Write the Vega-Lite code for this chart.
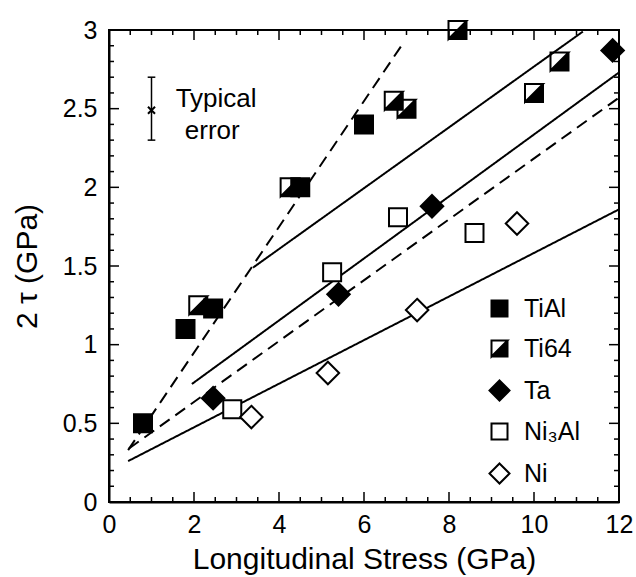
{
  "$schema": "https://vega.github.io/schema/vega-lite/v6.json",
  "width": 510,
  "height": 472,
  "autosize": {"type": "none"},
  "padding": {"left": 109, "top": 30, "right": 17, "bottom": 75},
  "background": "white",
  "config": {
    "font": "Liberation Sans",
    "view": {"stroke": "black", "strokeWidth": 2},
    "axis": {
      "grid": false,
      "domainColor": "black",
      "domainWidth": 2,
      "labelColor": "black",
      "titleColor": "black",
      "labelFont": "Liberation Sans",
      "titleFont": "Liberation Sans",
      "labelFontSize": 25,
      "titleFontSize": 30,
      "titleFontWeight": "normal"
    }
  },
  "datasets": {
    "points": [
      {"material": "TiAl", "stress": 0.8, "tau2": 0.5},
      {"material": "TiAl", "stress": 1.8, "tau2": 1.1},
      {"material": "TiAl", "stress": 2.45, "tau2": 1.23},
      {"material": "TiAl", "stress": 4.5, "tau2": 2.0},
      {"material": "TiAl", "stress": 6.0, "tau2": 2.4},
      {"material": "Ti64", "stress": 2.1, "tau2": 1.25},
      {"material": "Ti64", "stress": 4.25, "tau2": 2.0},
      {"material": "Ti64", "stress": 6.7, "tau2": 2.55},
      {"material": "Ti64", "stress": 7.0, "tau2": 2.5},
      {"material": "Ti64", "stress": 8.2, "tau2": 3.0},
      {"material": "Ti64", "stress": 10.0, "tau2": 2.6},
      {"material": "Ti64", "stress": 10.6, "tau2": 2.8},
      {"material": "Ta", "stress": 2.45, "tau2": 0.66},
      {"material": "Ta", "stress": 5.4, "tau2": 1.32},
      {"material": "Ta", "stress": 7.6, "tau2": 1.88},
      {"material": "Ta", "stress": 11.85, "tau2": 2.87},
      {"material": "Ni₃Al", "stress": 2.9, "tau2": 0.59},
      {"material": "Ni₃Al", "stress": 5.25, "tau2": 1.46},
      {"material": "Ni₃Al", "stress": 6.8, "tau2": 1.81},
      {"material": "Ni₃Al", "stress": 8.6, "tau2": 1.71},
      {"material": "Ni", "stress": 3.35, "tau2": 0.54},
      {"material": "Ni", "stress": 5.15, "tau2": 0.82},
      {"material": "Ni", "stress": 7.25, "tau2": 1.22},
      {"material": "Ni", "stress": 9.6, "tau2": 1.77}
    ],
    "fits": [
      {"fit": "A", "style": "dashed", "stress": 0.45, "tau2": 0.33},
      {"fit": "A", "style": "dashed", "stress": 6.93, "tau2": 2.92},
      {"fit": "B", "style": "solid", "stress": 3.39, "tau2": 1.49},
      {"fit": "B", "style": "solid", "stress": 11.15, "tau2": 2.99},
      {"fit": "C", "style": "solid", "stress": 1.95, "tau2": 0.75},
      {"fit": "C", "style": "solid", "stress": 12.0, "tau2": 2.73},
      {"fit": "D", "style": "dashed", "stress": 0.47, "tau2": 0.34},
      {"fit": "D", "style": "dashed", "stress": 12.0, "tau2": 2.57},
      {"fit": "E", "style": "solid", "stress": 0.45, "tau2": 0.26},
      {"fit": "E", "style": "solid", "stress": 12.0, "tau2": 1.86}
    ],
    "errbar": [
      {"x": 1.0, "x2": 1.0, "y": 2.3, "y2": 2.7},
      {"x": 0.91, "x2": 1.09, "y": 2.7, "y2": 2.7},
      {"x": 0.91, "x2": 1.09, "y": 2.3, "y2": 2.3}
    ],
    "errcenter": [{"x": 1.0, "y": 2.49}],
    "note": [
      {"x": 2.52, "y": 2.51, "text": "Typical"},
      {"x": 2.43, "y": 2.31, "text": "error"}
    ],
    "xticks": [
      {"value": 0, "kind": "major"}, {"value": 0.5, "kind": "minor"}, {"value": 1, "kind": "minor"}, {"value": 1.5, "kind": "minor"},
      {"value": 2, "kind": "major"}, {"value": 2.5, "kind": "minor"}, {"value": 3, "kind": "minor"}, {"value": 3.5, "kind": "minor"},
      {"value": 4, "kind": "major"}, {"value": 4.5, "kind": "minor"}, {"value": 5, "kind": "minor"}, {"value": 5.5, "kind": "minor"},
      {"value": 6, "kind": "major"}, {"value": 6.5, "kind": "minor"}, {"value": 7, "kind": "minor"}, {"value": 7.5, "kind": "minor"},
      {"value": 8, "kind": "major"}, {"value": 8.5, "kind": "minor"}, {"value": 9, "kind": "minor"}, {"value": 9.5, "kind": "minor"},
      {"value": 10, "kind": "major"}, {"value": 10.5, "kind": "minor"}, {"value": 11, "kind": "minor"}, {"value": 11.5, "kind": "minor"},
      {"value": 12, "kind": "major"}
    ],
    "yticks": [
      {"value": 0, "kind": "major"}, {"value": 0.1, "kind": "minor"}, {"value": 0.2, "kind": "minor"}, {"value": 0.3, "kind": "minor"}, {"value": 0.4, "kind": "minor"},
      {"value": 0.5, "kind": "major"}, {"value": 0.6, "kind": "minor"}, {"value": 0.7, "kind": "minor"}, {"value": 0.8, "kind": "minor"}, {"value": 0.9, "kind": "minor"},
      {"value": 1, "kind": "major"}, {"value": 1.1, "kind": "minor"}, {"value": 1.2, "kind": "minor"}, {"value": 1.3, "kind": "minor"}, {"value": 1.4, "kind": "minor"},
      {"value": 1.5, "kind": "major"}, {"value": 1.6, "kind": "minor"}, {"value": 1.7, "kind": "minor"}, {"value": 1.8, "kind": "minor"}, {"value": 1.9, "kind": "minor"},
      {"value": 2, "kind": "major"}, {"value": 2.1, "kind": "minor"}, {"value": 2.2, "kind": "minor"}, {"value": 2.3, "kind": "minor"}, {"value": 2.4, "kind": "minor"},
      {"value": 2.5, "kind": "major"}, {"value": 2.6, "kind": "minor"}, {"value": 2.7, "kind": "minor"}, {"value": 2.8, "kind": "minor"}, {"value": 2.9, "kind": "minor"},
      {"value": 3, "kind": "major"}
    ]
  },
  "layer": [
    {
      "data": {"name": "fits"},
      "mark": {"type": "line", "color": "black", "strokeWidth": 2},
      "encoding": {
        "x": {
          "field": "stress",
          "type": "quantitative",
          "scale": {"domain": [0, 12], "nice": false, "zero": false},
          "axis": {
            "orient": "bottom",
            "values": [0, 2, 4, 6, 8, 10, 12],
            "ticks": false,
            "tickSize": 0,
            "format": "~g",
            "labelPadding": 10,
            "labelFlush": false,
            "labelOverlap": false,
            "title": "Longitudinal Stress (GPa)",
            "titleY": 66,
            "titleBaseline": "alphabetic"
          }
        },
        "y": {
          "field": "tau2",
          "type": "quantitative",
          "scale": {"domain": [0, 3], "nice": false, "zero": false},
          "axis": {
            "orient": "left",
            "values": [0, 0.5, 1, 1.5, 2, 2.5, 3],
            "ticks": false,
            "tickSize": 0,
            "format": "~g",
            "labelPadding": 12,
            "labelFlush": false,
            "labelOverlap": false,
            "title": "2 τ (GPa)",
            "titleX": -82,
            "titleBaseline": "middle"
          }
        },
        "detail": {"field": "fit", "type": "nominal"},
        "strokeDash": {
          "field": "style",
          "type": "nominal",
          "scale": {"domain": ["solid", "dashed"], "range": [[1, 0], [12, 7]]},
          "legend": null
        }
      }
    },
    {
      "data": {"name": "xticks"},
      "mark": {"type": "tick", "orient": "vertical", "clip": true, "thickness": 1.5, "color": "black", "opacity": 1},
      "encoding": {
        "x": {"field": "value", "type": "quantitative", "scale": {"domain": [0, 12], "nice": false, "zero": false}, "axis": null},
        "y": {"datum": 0, "type": "quantitative", "scale": {"domain": [0, 3], "nice": false, "zero": false}, "axis": null},
        "size": {"field": "kind", "type": "nominal", "scale": {"domain": ["major", "minor"], "range": [20, 10]}, "legend": null}
      }
    },
    {
      "data": {"name": "xticks"},
      "mark": {"type": "tick", "orient": "vertical", "clip": true, "thickness": 1.5, "color": "black", "opacity": 1},
      "encoding": {
        "x": {"field": "value", "type": "quantitative", "scale": {"domain": [0, 12], "nice": false, "zero": false}, "axis": null},
        "y": {"datum": 3, "type": "quantitative", "scale": {"domain": [0, 3], "nice": false, "zero": false}, "axis": null},
        "size": {"field": "kind", "type": "nominal", "scale": {"domain": ["major", "minor"], "range": [20, 10]}, "legend": null}
      }
    },
    {
      "data": {"name": "yticks"},
      "mark": {"type": "tick", "orient": "horizontal", "clip": true, "thickness": 1.5, "color": "black", "opacity": 1},
      "encoding": {
        "y": {"field": "value", "type": "quantitative", "scale": {"domain": [0, 3], "nice": false, "zero": false}, "axis": null},
        "x": {"datum": 0, "type": "quantitative", "scale": {"domain": [0, 12], "nice": false, "zero": false}, "axis": null},
        "size": {"field": "kind", "type": "nominal", "scale": {"domain": ["major", "minor"], "range": [20, 10]}, "legend": null}
      }
    },
    {
      "data": {"name": "yticks"},
      "mark": {"type": "tick", "orient": "horizontal", "clip": true, "thickness": 1.5, "color": "black", "opacity": 1},
      "encoding": {
        "y": {"field": "value", "type": "quantitative", "scale": {"domain": [0, 3], "nice": false, "zero": false}, "axis": null},
        "x": {"datum": 12, "type": "quantitative", "scale": {"domain": [0, 12], "nice": false, "zero": false}, "axis": null},
        "size": {"field": "kind", "type": "nominal", "scale": {"domain": ["major", "minor"], "range": [20, 10]}, "legend": null}
      }
    },
    {
      "data": {"name": "errbar"},
      "mark": {"type": "rule", "color": "black", "strokeWidth": 1.5},
      "encoding": {
        "x": {"field": "x", "type": "quantitative", "scale": {"domain": [0, 12], "nice": false, "zero": false}, "axis": null},
        "x2": {"field": "x2"},
        "y": {"field": "y", "type": "quantitative", "scale": {"domain": [0, 3], "nice": false, "zero": false}, "axis": null},
        "y2": {"field": "y2"}
      }
    },
    {
      "data": {"name": "errcenter"},
      "mark": {"type": "point", "shape": "M-1,-1L1,1M-1,1L1,-1", "size": 50, "stroke": "black", "strokeWidth": 2, "filled": false, "opacity": 1},
      "encoding": {
        "x": {"field": "x", "type": "quantitative", "scale": {"domain": [0, 12], "nice": false, "zero": false}, "axis": null},
        "y": {"field": "y", "type": "quantitative", "scale": {"domain": [0, 3], "nice": false, "zero": false}, "axis": null}
      }
    },
    {
      "data": {"name": "note"},
      "mark": {"type": "text", "font": "Liberation Sans", "fontSize": 26, "color": "black", "align": "center", "baseline": "alphabetic"},
      "encoding": {
        "x": {"field": "x", "type": "quantitative", "scale": {"domain": [0, 12], "nice": false, "zero": false}, "axis": null},
        "y": {"field": "y", "type": "quantitative", "scale": {"domain": [0, 3], "nice": false, "zero": false}, "axis": null},
        "text": {"field": "text"}
      }
    },
    {
      "data": {"name": "points"},
      "mark": {"type": "point", "filled": true, "size": 324, "stroke": "black", "strokeWidth": 2, "opacity": 1},
      "encoding": {
        "x": {"field": "stress", "type": "quantitative", "scale": {"domain": [0, 12], "nice": false, "zero": false}, "axis": null},
        "y": {"field": "tau2", "type": "quantitative", "scale": {"domain": [0, 3], "nice": false, "zero": false}, "axis": null},
        "shape": {
          "field": "material",
          "type": "nominal",
          "scale": {
            "domain": ["TiAl", "Ti64", "Ta", "Ni₃Al", "Ni"],
            "range": ["square", "M-1,-1L1,-1L1,1L-1,1Z M-1,-1L-1,1L1,-1Z", "M0,-1.25L1.25,0L0,1.25L-1.25,0Z", "square", "M0,-1.25L1.25,0L0,1.25L-1.25,0Z"]
          },
          "legend": {
            "orient": "none", "legendX": 378, "legendY": 266, "title": null,
            "labelFontSize": 25, "labelFont": "Liberation Sans", "labelColor": "black",
            "symbolSize": 256, "symbolStrokeWidth": 2, "symbolStrokeColor": "black",
            "rowPadding": 14, "labelOffset": 12, "padding": 0,
            "symbolType": "square",
            "symbolFillColor": "white",
            "symbolOpacity": 1,
            "values": ["TiAl", "Ti64", "Ta", "Ni₃Al", "Ni"]
          }
        },
        "fill": {
          "field": "material",
          "type": "nominal",
          "scale": {
            "domain": ["TiAl", "Ti64", "Ta", "Ni₃Al", "Ni"],
            "range": ["black", "black", "black", "white", "white"]
          },
          "legend": {
            "orient": "none", "legendX": 378, "legendY": 266, "title": null,
            "labelFontSize": 25, "labelFont": "Liberation Sans", "labelColor": "black",
            "symbolSize": 256, "symbolStrokeWidth": 2, "symbolStrokeColor": "black",
            "rowPadding": 14, "labelOffset": 12, "padding": 0,
            "symbolType": "square",
            "symbolFillColor": "white",
            "symbolOpacity": 1,
            "values": ["TiAl", "Ti64", "Ta", "Ni₃Al", "Ni"],
            "encode": {
              "symbols": {
                "update": {
                  "stroke": {"value": "black"},
                  "strokeWidth": {"value": 2}
                }
              }
            }
          }
        }
      }
    }
  ],
  "resolve": {"axis": {"x": "independent", "y": "independent"}}
}
